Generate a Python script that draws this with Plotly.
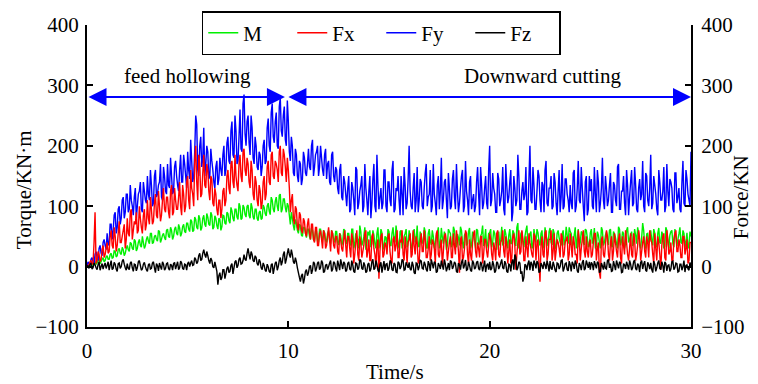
import plotly.graph_objects as go

# Values.
# *_A: samples at t = 0.0, 0.1, ..., 30.0 s ; *_B: samples at t = 0.05, 0.15, ..., 29.95 s
M_A = [
    0, 2, 5, 3, 8, 6, 12, 8, 15, 10,
    18, 12, 22, 15, 25, 18, 30, 20, 28, 22,
    35, 25, 38, 28, 42, 30, 45, 32, 40, 35,
    50, 38, 55, 40, 52, 42, 58, 45, 55, 44,
    62, 48, 60, 50, 66, 52, 64, 55, 70, 56,
    72, 58, 75, 60, 78, 62, 80, 64, 85, 66,
    82, 68, 85, 65, 80, 62, 78, 66, 84, 70,
    88, 72, 92, 75, 95, 78, 100, 80, 98, 82,
    102, 80, 98, 78, 95, 76, 92, 80, 98, 84,
    105, 86, 110, 90, 115, 92, 120, 95, 112, 90,
    100, 70, 80, 60, 72, 55, 68, 50, 65, 48,
    62, 45, 60, 42, 58, 40, 62, 44, 56, 40,
    60, 38, 55, 40, 58, 36, 52, 40, 60, 38,
    55, 35, 62, 38, 50, 30, 58, 40, 65, 35,
    52, 32, 60, 38, 55, 30, 62, 36, 50, 34,
    58, 35, 65, 40, 52, 30, 60, 38, 55, 32,
    60, 34, 55, 40, 68, 32, 52, 38, 58, 30,
    62, 36, 50, 40, 56, 30, 64, 38, 52, 35,
    58, 32, 66, 40, 54, 35, 60, 30, 56, 38,
    64, 36, 52, 30, 60, 40, 55, 34, 62, 38,
    56, 32, 60, 40, 52, 35, 66, 38, 54, 30,
    62, 38, 56, 34, 72, 40, 58, 32, 60, 36,
    54, 30, 62, 40, 56, 35, 60, 38, 52, 34,
    64, 36, 56, 32, 60, 40, 54, 35, 66, 38,
    58, 34, 52, 30, 62, 40, 56, 36, 60, 32,
    56, 38, 64, 34, 52, 30, 60, 40, 58, 36,
    62, 32, 54, 38, 66, 35, 58, 30, 60, 40,
    52, 34, 62, 38, 56, 30, 72, 36, 54, 40,
    60, 35, 56, 32, 64, 38, 52, 34, 60, 30,
    58, 38, 62, 34, 54, 40, 60, 32, 56, 36,
    50,
]
M_B = [
    1, 4, 2, 6, 4, 10, 5, 12, 8, 16,
    12, 20, 14, 26, 16, 28, 22, 32, 18, 30,
    28, 40, 30, 45, 26, 40, 35, 50, 30, 45,
    42, 55, 38, 50, 45, 60, 40, 52, 48, 60,
    50, 65, 45, 62, 55, 70, 50, 66, 58, 72,
    62, 78, 58, 82, 65, 85, 60, 80, 70, 88,
    70, 90, 62, 84, 68, 80, 60, 85, 72, 90,
    76, 98, 80, 95, 82, 105, 78, 102, 86, 100,
    85, 105, 82, 95, 80, 90, 78, 102, 88, 100,
    92, 115, 95, 108, 100, 118, 90, 112, 98, 105,
    85, 90, 68, 78, 60, 70, 52, 65, 55, 62,
    50, 64, 45, 58, 42, 62, 48, 60, 44, 55,
    42, 60, 45, 58, 40, 55, 35, 62, 42, 55,
    40, 62, 30, 55, 45, 68, 35, 50, 28, 58,
    60, 38, 52, 30, 65, 42, 56, 28, 48, 62,
    35, 55, 45, 68, 38, 58, 30, 50, 62, 40,
    50, 28, 62, 45, 35, 58, 40, 65, 32, 55,
    42, 60, 30, 52, 65, 38, 48, 58, 28, 62,
    55, 38, 60, 32, 48, 66, 40, 52, 35, 58,
    30, 58, 42, 62, 36, 50, 68, 45, 30, 55,
    62, 40, 55, 28, 58, 45, 35, 62, 42, 52,
    38, 60, 45, 65, 30, 55, 42, 50, 68, 40,
    58, 35, 50, 62, 40, 55, 30, 65, 45, 58,
    40, 62, 30, 55, 48, 35, 60, 42, 52, 65,
    55, 38, 65, 45, 32, 58, 40, 62, 48, 35,
    62, 45, 30, 58, 40, 65, 35, 52, 42, 60,
    35, 58, 48, 30, 62, 42, 55, 38, 65, 45,
    58, 40, 52, 65, 35, 48, 60, 30, 55, 42,
    45, 62, 35, 55, 40, 58, 30, 65, 42, 52,
    60, 32, 50, 45, 65, 38, 55, 42, 30, 58,
]

Fx_A = [
    0, 3, 10, 5, 90, 10, 20, 12, 35, 20,
    40, 25, 60, 30, 50, 35, 75, 40, 60, 30,
    80, 50, 95, 60, 70, 55, 100, 65, 85, 60,
    110, 70, 95, 75, 120, 80, 100, 85, 130, 90,
    115, 80, 135, 90, 110, 95, 140, 85, 120, 100,
    150, 95, 130, 100, 200, 110, 170, 120, 185, 130,
    160, 110, 145, 100, 120, 85, 110, 95, 130, 110,
    160, 120, 175, 130, 150, 125, 185, 140, 195, 150,
    170, 130, 160, 110, 140, 100, 125, 105, 150, 120,
    175, 135, 190, 145, 170, 140, 200, 150, 185, 140,
    160, 90, 120, 70, 95, 60, 85, 55, 75, 50,
    80, 45, 70, 40, 65, 35, 60, 30, 55, 35,
    65, 25, 55, 30, 50, 20, 45, 25, 60, 15,
    50, 15, 45, 20, 60, 10, 40, 25, 55, 15,
    45, 10, 55, 20, 35, -20, 50, 15, 40, 20,
    55, 10, 45, 25, 60, 15, 40, 20, 50, 5,
    45, 15, 60, 20, 40, 10, 55, 25, 45, 15,
    50, 20, 40, 5, 60, 15, 45, 25, 55, 10,
    40, 15, 55, 20, 45, -10, 50, 15, 60, 20,
    45, 10, 55, 25, 40, 15, 50, 20, 45, 15,
    55, 20, 40, 10, 60, 15, 45, 25, 50, 5,
    45, 15, 55, -5, 40, 20, 60, 10, 50, 15,
    40, 20, 55, 10, 45, -25, 50, 15, 60, 20,
    45, 10, 55, 25, 40, 15, 50, 20, 45, 10,
    55, 15, 40, 20, 60, 10, 45, 25, 50, 15,
    45, 20, 55, 10, 40, -20, 50, 15, 60, 20,
    40, 10, 55, 25, 45, 15, 50, 20, 40, 10,
    55, 15, 45, 20, 60, 10, 40, 25, 50, 15,
    45, 20, 55, 10, 40, -5, 50, 15, 60, 20,
    40, 10, 55, 25, 45, 15, 50, 20, 45, 10,
    40,
]
Fx_B = [
    2, 8, 4, 40, 5, 25, 8, 28, 15, 30,
    22, 50, 35, 65, 25, 55, 40, 50, 70, 45,
    55, 90, 45, 75, 90, 60, 80, 55, 95, 70,
    80, 115, 70, 105, 85, 125, 75, 110, 95, 115,
    90, 125, 85, 130, 95, 115, 100, 135, 90, 140,
    110, 160, 120, 175, 140, 185, 115, 155, 135, 170,
    125, 150, 105, 130, 95, 110, 80, 125, 100, 150,
    130, 170, 140, 185, 135, 170, 150, 190, 160, 180,
    140, 175, 120, 150, 110, 135, 95, 140, 110, 165,
    140, 185, 150, 175, 160, 190, 155, 195, 165, 180,
    130, 110, 80, 100, 65, 90, 60, 80, 55, 70,
    55, 70, 45, 65, 35, 55, 45, 60, 30, 50,
    45, 60, 35, 50, 25, 55, 30, 45, 35, 50,
    30, 55, 5, 40, 20, 50, 15, 35, 60, 25,
    10, 50, 30, 0, 45, 25, 55, 20, 35, 50,
    25, 5, 50, 35, 15, 45, 60, 10, 30, 40,
    55, 20, 35, 50, 5, 40, 25, 60, 15, 30,
    10, 45, 30, 55, 20, 35, 0, 50, 40, 25,
    50, 15, 35, 60, 25, 45, 10, 30, 55, 5,
    20, 40, 60, 15, 30, 50, 5, 45, 25, 35,
    45, 10, 30, 55, 20, 40, 60, 15, 35, 25,
    5, 50, 35, 20, 60, 25, 45, 10, 30, 55,
    30, 15, 50, 40, 5, 35, 20, 55, 10, 45,
    60, 25, 10, 45, 30, 55, 15, 40, 50, 20,
    35, 50, 20, 5, 45, 30, 60, 15, 25, 40,
    15, 40, 55, 30, -10, 45, 20, 35, 50, 10,
    50, 25, 40, 15, 55, 5, 35, 60, 20, 30,
    20, 55, 10, 35, 45, 25, 50, 15, 40, 60,
    40, 5, 30, 50, 20, 35, 55, 10, 45, 25,
    10, 45, 60, 25, 35, 15, 50, 30, 5, 40,
]

Fy_A = [
    0, 5, 12, 8, 20, 15, 30, 22, 40, 35,
    55, 40, 70, 60, 90, 65, 100, 80, 115, 90,
    120, 95, 110, 85, 130, 100, 125, 95, 140, 110,
    150, 110, 135, 105, 160, 120, 140, 115, 165, 125,
    170, 130, 150, 125, 175, 135, 160, 140, 185, 150,
    190, 145, 175, 150, 250, 160, 200, 165, 230, 170,
    190, 150, 175, 140, 165, 135, 180, 150, 200, 160,
    215, 170, 240, 180, 225, 175, 260, 190, 285, 200,
    250, 185, 230, 170, 200, 160, 185, 165, 210, 175,
    245, 190, 270, 205, 255, 195, 280, 215, 265, 200,
    240, 175, 200, 150, 185, 140, 170, 145, 180, 150,
    195, 160, 210, 165, 190, 150, 200, 160, 185, 145,
    175, 135, 190, 140, 160, 120, 170, 110, 140, 100,
    150, 95, 130, 85, 160, 105, 135, 90, 170, 110,
    125, 80, 145, 100, 185, 95, 130, 105, 160, 90,
    140, 100, 175, 95, 125, 110, 150, 85, 135, 105,
    200, 100, 130, 90, 165, 110, 140, 95, 155, 100,
    120, 90, 170, 105, 135, 95, 180, 110, 145, 80,
    130, 100, 160, 95, 125, 105, 150, 90, 175, 110,
    140, 95, 120, 100, 165, 85, 135, 105, 150, 95,
    200, 110, 130, 90, 155, 100, 125, 95, 170, 105,
    140, 75, 150, 100, 185, 95, 125, 110, 165, 90,
    200, 105, 135, 95, 160, 110, 140, 90, 175, 100,
    130, 95, 155, 105, 125, 90, 170, 100, 145, 110,
    135, 95, 160, 100, 175, 105, 130, 75, 150, 95,
    125, 100, 165, 90, 140, 105, 180, 95, 130, 110,
    155, 90, 135, 100, 170, 95, 125, 105, 160, 85,
    140, 100, 165, 95, 130, 110, 175, 90, 150, 100,
    185, 105, 135, 95, 160, 110, 125, 90, 170, 100,
    140, 95, 155, 105, 130, 90, 175, 100, 145, 110,
    190,
]
Fy_B = [
    8, 2, 15, 5, 25, 10, 35, 18, 45, 28,
    35, 70, 45, 85, 55, 95, 70, 110, 80, 120,
    90, 135, 100, 115, 80, 120, 140, 90, 125, 105,
    120, 160, 100, 150, 115, 135, 170, 110, 150, 120,
    135, 180, 120, 165, 150, 125, 185, 140, 170, 130,
    160, 210, 140, 190, 235, 150, 215, 180, 150, 200,
    145, 195, 160, 130, 175, 145, 160, 185, 150, 205,
    175, 225, 185, 250, 170, 215, 195, 270, 220, 240,
    205, 250, 180, 215, 165, 190, 150, 200, 170, 230,
    200, 255, 215, 240, 200, 265, 225, 250, 210, 275,
    190, 215, 155, 195, 150, 175, 135, 190, 155, 170,
    165, 200, 150, 185, 200, 165, 180, 150, 195, 170,
    140, 185, 150, 165, 130, 160, 115, 150, 120, 130,
    90, 140, 110, 165, 95, 125, 150, 100, 130, 85,
    150, 105, 170, 90, 135, 115, 95, 160, 100, 140,
    110, 160, 90, 130, 150, 85, 120, 165, 95, 145,
    125, 95, 155, 110, 90, 145, 100, 130, 170, 115,
    160, 100, 120, 85, 150, 125, 95, 140, 110, 155,
    95, 145, 115, 170, 90, 130, 160, 100, 125, 85,
    150, 110, 90, 140, 120, 165, 95, 130, 105, 160,
    100, 155, 120, 90, 145, 110, 165, 85, 135, 115,
    160, 90, 130, 110, 150, 95, 140, 120, 85, 145,
    110, 165, 95, 125, 150, 90, 135, 160, 105, 130,
    150, 100, 140, 85, 160, 115, 95, 145, 120, 90,
    105, 155, 90, 130, 110, 165, 100, 140, 85, 150,
    145, 95, 120, 160, 90, 130, 110, 150, 100, 135,
    90, 140, 110, 165, 95, 125, 150, 85, 135, 115,
    160, 105, 135, 90, 145, 120, 100, 155, 110, 130,
    95, 150, 120, 85, 140, 110, 165, 100, 125, 145,
    130, 90, 155, 115, 95, 140, 105, 160, 120, 100,
]

Fz_A = [
    0, -3, 5, -2, 3, -5, 8, 0, -4, 6,
    2, -6, 10, -3, 4, -8, 6, 0, 12, -2,
    5, -5, 8, -8, 3, -2, 10, -6, 4, 0,
    -8, 5, -3, 8, -10, 2, 6, -5, 4, -3,
    6, -6, 2, 5, -4, 8, -2, 6, -5, 3,
    5, 0, 10, 3, 12, 8, 22, 12, 28, 15,
    18, 5, 10, -2, 0, -30, -10, -18, -5, -12,
    0, -8, 5, -2, 10, 2, 15, 5, 20, 10,
    30, 12, 20, 8, 15, 2, 8, -5, 2, -8,
    0, -10, 5, -3, 8, 0, 15, 8, 25, 12,
    30, 15, 20, 5, 8, -10, -25, -12, -20, -5,
    -10, 2, -6, 5, -3, 8, -2, 6, -8, 4,
    0, 10, -5, 6, -8, 3, 12, -4, 5, -6,
    8, -6, 3, -10, 5, -2, 10, -5, 2, -8,
    6, -4, 12, -3, 4, -9, 7, 0, -6, 5,
    -3, 8, -7, 4, -10, 6, 0, 10, -5, 3,
    7, -6, 2, -12, 5, 0, 9, -4, 3, -8,
    4, 12, -3, 6, -8, 2, 10, -5, 4, -2,
    -6, 8, 0, 5, -10, 3, 7, -3, 11, -5,
    2, -8, 6, -2, 9, -6, 4, 0, -9, 5,
    8, -3, 3, -7, 6, 0, 12, -4, 5, -10,
    3, 7, -5, 15, -2, 6, -8, -18, 2, 5,
    -6, 4, 10, -3, 6, -8, 2, 8, -4, 3,
    9, -5, 2, -9, 5, 0, 11, -3, 6, -7,
    3, 8, -4, 5, -10, 2, 7, -6, 10, -2,
    -5, 4, 9, -3, 6, -8, 1, 8, -4, 12,
    5, -7, 2, 10, -3, 6, -9, 3, 8, -5,
    4, -2, 11, -6, 2, 7, -4, 9, -8, 3,
    6, -10, 4, -2, 10, -5, 2, 8, -7, 3,
    -4, 9, -2, 5, -8, 4, 0, -9, 3, -6,
    0,
]
Fz_B = [
    2, 4, -4, 6, -2, 3, -6, 5, 2, -3,
    8, 3, -5, 7, -4, 5, -3, 9, 4, -6,
    -3, 6, -2, 4, -7, 8, 2, -4, 7, -5,
    3, -4, 6, -2, 5, -7, 0, 8, -6, 5,
    -3, 4, -6, 7, 2, -5, 9, -3, 4, -6,
    8, 6, 2, 15, 5, 18, 10, 22, 20, 25,
    10, 14, 0, 8, -8, -15, -22, -5, -20, -3,
    -10, 2, -12, 8, -2, 12, 4, 10, 12, 22,
    20, 25, 10, 18, 5, 12, -2, 6, -6, 4,
    -8, 3, -12, 6, -6, 10, 2, 20, 5, 22,
    20, 28, 8, 15, -2, -18, -15, -28, -8, -15,
    0, -12, 8, -8, 6, -5, 10, -10, 2, -5,
    6, -8, 8, -3, 10, -6, 4, 8, -8, 5,
    -4, 10, -8, 6, -5, 12, -3, 7, -10, 4,
    -8, 8, -5, 10, -6, 3, -10, 9, 4, -7,
    10, -5, 6, -9, 8, -4, 12, -6, 7, -2,
    -4, 8, -10, 6, -6, 11, -3, 8, -5, 9,
    -7, 5, 8, -10, 6, -4, 2, 12, -8, 6,
    10, -4, 8, -8, 6, -5, 12, 2, -6, 8,
    -6, 10, -4, 7, -3, 8, -8, 10, 2, -5,
    -6, 9, -10, 8, -4, 6, -2, 9, -8, 4,
    -8, 12, 20, -6, 8, -12, -25, 4, -6, 10,
    8, -7, 5, 9, -10, 6, -4, 3, 10, -8,
    -3, 8, -6, 6, -4, 10, -8, 5, -5, 9,
    -8, 4, 10, -7, 6, -6, 11, -3, 4, 8,
    7, -6, 3, 8, -10, 6, -5, -3, 10, -2,
    -8, 9, -6, 4, 8, -10, 5, -4, 2, 10,
    -6, 8, -3, 5, -9, 10, 4, -6, 7, -4,
    -5, 9, -8, 6, -3, 8, -10, 5, 2, -8,
    8, -5, 6, -9, 4, -6, 10, 2, -4, 7,
]

LEGEND_ORDER = ["M", "Fx", "Fy", "Fz"]
X_TICKS = [0, 10, 20, 30]
Y_TICKS = [-100, 0, 100, 200, 300, 400]


def merge(a_vals, b_vals):
    """Combine the on-grid (t = k*0.1) and mid-grid (t = k*0.1 + 0.05) samples."""
    ts, ys = [], []
    for k, v in enumerate(a_vals):
        ts.append(round(k * 0.1, 2))
        ys.append(v)
        if k < len(b_vals):
            ts.append(round(k * 0.1 + 0.05, 2))
            ys.append(b_vals[k])
    return ts, ys


# drawing order: Fy at the bottom, then Fx, M, Fz on top
series = [
    ("Fy", Fy_A, Fy_B, "#0000ff", "y2"),
    ("Fx", Fx_A, Fx_B, "#ff0000", "y2"),
    ("M", M_A, M_B, "#00f000", "y"),
    ("Fz", Fz_A, Fz_B, "#000000", "y2"),
]

FONT = "Liberation Serif"
FS = 21

fig = go.Figure()
for name, a, b, color, yax in series:
    t, y = merge(a, b)
    fig.add_trace(go.Scatter(
        x=t, y=y, name=name, mode="lines",
        line=dict(color=color, width=1.4, simplify=False), yaxis=yax,
        legendrank=LEGEND_ORDER.index(name) + 1,
    ))

axis_common = dict(
    showgrid=False, zeroline=False, showline=True, linecolor="black", linewidth=2,
    ticks="inside", ticklen=6, tickwidth=1.5, tickcolor="black", automargin=False,
    tickfont=dict(family=FONT, size=FS, color="black"),
)

# the page body adds an 8 px offset, so the figure is 8 px smaller with 8 px less left/top margin
fig.update_layout(
    width=750, height=376,
    margin=dict(l=79, r=67, t=17, b=57, autoexpand=False),
    plot_bgcolor="white", paper_bgcolor="white",
    font=dict(family=FONT, size=FS, color="black"),
    xaxis=dict(range=[0, 30], tickvals=X_TICKS, ticklabelstandoff=4, **axis_common),
    yaxis=dict(range=[-100, 400], tickvals=Y_TICKS, ticklabelstandoff=2, **axis_common),
    yaxis2=dict(range=[-100, 400], tickvals=Y_TICKS, ticklabelstandoff=4,
                overlaying="y", side="right", anchor="x", **axis_common),
    showlegend=True,
    legend=dict(orientation="h", x=0.19, y=1.046, xanchor="left", yanchor="top",
                bgcolor="white", bordercolor="black", borderwidth=1.5,
                font=dict(family=FONT, size=FS), traceorder="normal",
                entrywidth=44, entrywidthmode="pixels", tracegroupgap=0),
)

# axis titles
fig.add_annotation(text="Torque/KN·m", textangle=-90, x=-0.105, y=0.455,
                   xanchor="center", yanchor="middle",
                   xref="paper", yref="paper", showarrow=False,
                   font=dict(family=FONT, size=FS))
fig.add_annotation(text="Force/KN", textangle=-90, x=1.083, y=0.43,
                   xanchor="center", yanchor="middle",
                   xref="paper", yref="paper", showarrow=False,
                   font=dict(family=FONT, size=FS))
fig.add_annotation(text="Time/s", x=0.51, y=-0.149, xanchor="center", yanchor="middle",
                   xref="paper", yref="paper",
                   showarrow=False, font=dict(family=FONT, size=FS))

# phase arrows
arrow_y = 281
for a, b in [(0, 9.83), (9.93, 30)]:
    fig.add_annotation(x=b, y=arrow_y, ax=a, ay=arrow_y, xref="x", yref="y",
                       axref="x", ayref="y", showarrow=True, arrowhead=2,
                       startarrowhead=2, arrowside="end+start", arrowcolor="#0000ff",
                       arrowwidth=2, arrowsize=1.8, startarrowsize=1.8, text="")

fig.add_annotation(x=5.0, y=315, xref="x", yref="y", text="feed hollowing",
                   showarrow=False, font=dict(family=FONT, size=FS, color="black"))
fig.add_annotation(x=22.6, y=315, xref="x", yref="y", text="Downward cutting",
                   showarrow=False, font=dict(family=FONT, size=FS, color="black"))

fig.write_html("out.html")
